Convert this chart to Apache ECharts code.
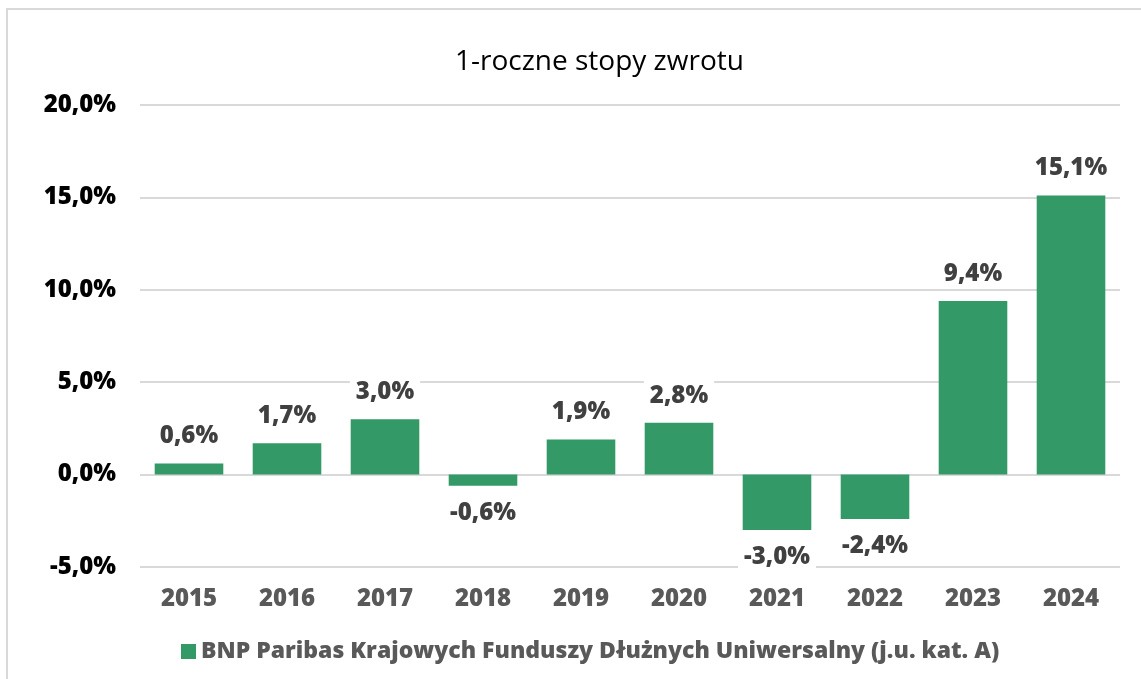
<!DOCTYPE html>
<html><head><meta charset="utf-8">
<script src="https://cdn.jsdelivr.net/npm/echarts@6/dist/echarts.min.js"></script>
<style>html,body{margin:0;padding:0;background:#fff}#c{width:1141px;height:679px}</style>
</head><body><div id="c"></div>
<script>
const categories = ['2015','2016','2017','2018','2019','2020','2021','2022','2023','2024'];
const values = [0.6, 1.7, 3.0, -0.6, 1.9, 2.8, -3.0, -2.4, 9.4, 15.1];
const seriesName = 'BNP Paribas Krajowych Funduszy Dłużnych Uniwersalny (j.u. kat. A)';
const titleText = '1-roczne stopy zwrotu';
const FONT = '"Open Sans", sans-serif';
const fmt = v => v.toFixed(1).replace('.', ',') + '%';

const chart = echarts.init(document.getElementById('c'));
chart.setOption({
  animation: false,
  textStyle: { fontFamily: FONT },
  title: { text: titleText, left: 450, top: 43,
    textStyle: { fontFamily: FONT, fontSize: 28, fontWeight: 'normal', color: '#000' } },
  graphic: [
    { type: 'rect', shape: { x: 7, y: 9, width: 1300, height: 800 },
      style: { fill: 'none', stroke: '#d9d9d9', lineWidth: 2 }, silent: true }
  ],
  grid: { left: 140, right: 21, top: 105, bottom: 112, containLabel: false },
  legend: { bottom: 11, left: 176, itemWidth: 15, itemHeight: 15, itemGap: 7,
    icon: 'rect',
    textStyle: { fontFamily: FONT, fontSize: 23, fontWeight: 800, color: '#595959' } },
  xAxis: { type: 'category', data: categories, position: 'bottom',
    axisLine: { show: false }, axisTick: { show: false },
    axisLabel: { margin: 20, fontFamily: FONT, fontSize: 24, fontWeight: 800, color: '#595959' } },
  yAxis: { type: 'value', min: -5, max: 20, interval: 5,
    axisLine: { show: false }, axisTick: { show: false },
    splitLine: { lineStyle: { color: '#d9d9d9', width: 2 } },
    axisLabel: { margin: 24, formatter: v => fmt(v), fontFamily: FONT, fontSize: 24, fontWeight: 800, color: '#000' } },
  series: [{
    type: 'bar', name: seriesName, barWidth: '70%',
    itemStyle: { color: '#339966' },
    data: values.map(v => ({ value: v, label: { position: v < 0 ? 'bottom' : 'top' } })),
    label: { show: true, distance: 12, formatter: p => fmt(p.value),
      backgroundColor: '#fff', padding: [3, 6],
      fontFamily: FONT, fontSize: 24, fontWeight: 800, color: '#404040' }
  }]
});
</script></body></html>
